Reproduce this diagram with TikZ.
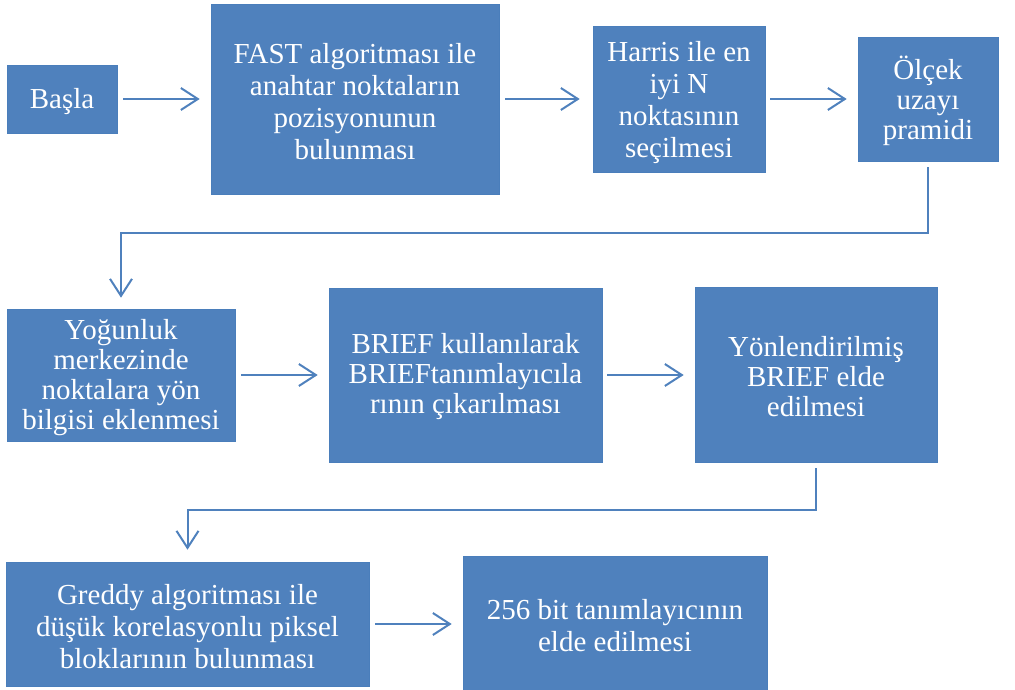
\documentclass[tikz,border=0pt]{standalone}
\usepackage{fontspec}
\setmainfont{Liberation Serif}
\usetikzlibrary{arrows.meta}
\definecolor{boxblue}{HTML}{4F81BD}
\definecolor{edgeblue}{HTML}{4A7EBB}
\tikzset{
  box/.style={rectangle, fill=boxblue, draw=edgeblue, line width=0.6pt, inner sep=0pt},
  boxtext/.style={text=white, align=center, inner sep=0pt, font=\fontsize{29}{32}\selectfont},
  tighttext/.style={boxtext, font=\fontsize{29}{30}\selectfont},
  arr/.style={draw=boxblue, line width=2pt, -{Straight Barb[length=17pt,width=22pt,line width=2pt]}}
}
\begin{document}
\begin{tikzpicture}[x=1pt,y=-1pt]
\useasboundingbox (0,0) rectangle (1015,690);
% row 1
\node[box, minimum width=110pt, minimum height=68pt] (basla) at (62,99) {};
\node[boxtext] (basla-t) at ([yshift=-3pt]basla.center) {Başla};
\node[box, minimum width=288pt, minimum height=190pt] (fast) at (355,99) {};
\node[boxtext] (fast-t) at ([yshift=-3pt]fast.center) {FAST algoritması ile\\anahtar noktaların\\pozisyonunun\\bulunması};
\node[box, minimum width=172pt, minimum height=146pt] (harris) at (679,99) {};
\node[boxtext] (harris-t) at ([yshift=-4pt]harris.center) {Harris ile en\\iyi N\\noktasının\\seçilmesi};
\node[box, minimum width=140pt, minimum height=124pt] (olcek) at (928,99) {};
\node[tighttext] (olcek-t) at ([yshift=-2pt]olcek.center) {Ölçek\\uzayı\\pramidi};
% row 2
\node[box, minimum width=228pt, minimum height=132pt] (yog) at (121,375) {};
\node[tighttext] (yog-t) at ([yshift=-3pt]yog.center) {Yoğunluk\\merkezinde\\noktalara yön\\bilgisi eklenmesi};
\node[box, minimum width=273pt, minimum height=174pt] (brief) at (465.5,375) {};
\node[tighttext] (brief-t) at ([yshift=-2pt]brief.center) {BRIEF kullanılarak\\BRIEFtanımlayıcıla\\rının çıkarılması};
\node[box, minimum width=242pt, minimum height=175pt] (yon) at (816,374.5) {};
\node[tighttext] (yon-t) at ([yshift=-2pt]yon.center) {Yönlendirilmiş\\BRIEF elde\\edilmesi};
% row 3
\node[box, minimum width=363pt, minimum height=124pt] (greddy) at (187.5,624) {};
\node[boxtext] (greddy-t) at ([yshift=-3pt]greddy.center) {Greddy algoritması ile\\düşük korelasyonlu piksel\\bloklarının bulunması};
\node[box, minimum width=304pt, minimum height=134pt] (bit) at (615,623) {};
\node[boxtext] (bit-t) at ([yshift=-3pt]bit.center) {256 bit tanımlayıcının\\elde edilmesi};
% connectors
\draw[arr, shorten <=6pt, shorten >=11pt] (basla.east) -- (basla.east -| fast.west);
\draw[arr, shorten <=6pt, shorten >=13pt] (fast.east |- basla.east) -- (harris.west |- basla.east);
\draw[arr, shorten <=5pt, shorten >=11pt] (harris.east |- basla.east) -- (olcek.west |- basla.east);
\draw[arr] ([yshift=-6pt]olcek.south) -- ++(0,66) -| ([yshift=11pt]yog.north);
\draw[arr, shorten <=6pt, shorten >=11pt] (yog.east |- brief.west) -- (brief.west);
\draw[arr, shorten <=5pt, shorten >=11pt] (brief.east) -- (yon.west |- brief.east);
\draw[arr] ([yshift=-6pt]yon.south) -- ++(0,42) -| ([yshift=12pt]greddy.north);
\draw[arr, shorten <=6pt, shorten >=11pt] (greddy.east) -- (bit.west |- greddy.east);
\end{tikzpicture}
\end{document}
